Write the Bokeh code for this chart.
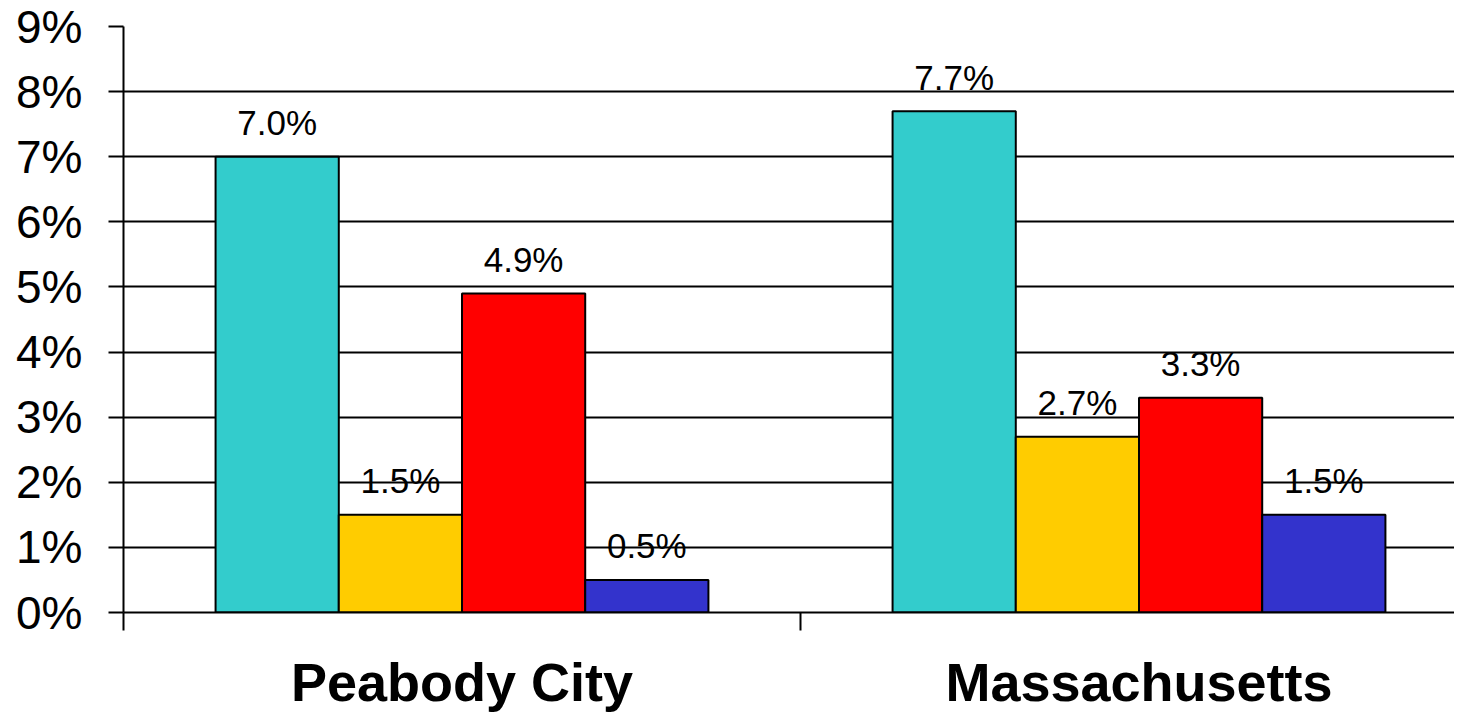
from bokeh.plotting import figure
from bokeh.models import ColumnDataSource, Range1d, FixedTicker, PrintfTickFormatter
from bokeh.transform import dodge
from bokeh.core.properties import value
from bokeh.embed import file_html
from bokeh.resources import INLINE

# ---- data ----
categories = ["Peabody City", "Massachusetts"]
series_names = ["teal", "yellow", "red", "blue"]
teal_vals = [7.0, 7.7]
yellow_vals = [1.5, 2.7]
red_vals = [4.9, 3.3]
blue_vals = [0.5, 1.5]
y_ticks = [0, 1, 2, 3, 4, 5, 6, 7, 8, 9]

colors = ["#33CCCC", "#FFCC00", "#FF0000", "#3333CC"]
series_values = [teal_vals, yellow_vals, red_vals, blue_vals]

FONT = "Liberation Sans"
bar_w = 0.182
centers = [i + 0.5 for i in range(len(categories))]

W, H = 1454, 714
LEFT, TOP, BOTTOM = 123, 26, 102
CAT_PX = 677

p = figure(width=W, height=H, output_backend="svg", toolbar_location=None,
           x_range=Range1d(0, (W - LEFT) / CAT_PX), y_range=Range1d(0, 9),
           min_border_left=LEFT, min_border_right=0, min_border_top=TOP,
           min_border_bottom=BOTTOM)
p.outline_line_color = None
p.background_fill_color = "white"
p.border_fill_color = "white"

offsets = [-1.5 * bar_w, -0.5 * bar_w, 0.5 * bar_w, 1.5 * bar_w]
for vals, col, off in zip(series_values, colors, offsets):
    src = ColumnDataSource(dict(x=centers, top=vals,
                                lab=[f"{v:.1f}%" for v in vals]))
    p.vbar(x=dodge("x", off, range=p.x_range), top="top", bottom=0, width=bar_w,
           source=src, fill_color=col, line_color="black", line_width=2)
    p.text(x=dodge("x", off, range=p.x_range), y="top", text="lab", source=src,
           text_align="center", text_baseline="alphabetic", y_offset=-34,
           text_font=value(FONT), text_font_size="35px", text_color="black")

# y axis
p.yaxis.ticker = FixedTicker(ticks=y_ticks, minor_ticks=[])
p.yaxis.formatter = PrintfTickFormatter(format="%d%%")
p.yaxis.major_label_text_font = FONT
p.yaxis.major_label_text_font_size = "46px"
p.yaxis.major_label_text_color = "black"
p.yaxis.major_label_standoff = 26
p.yaxis.major_tick_out = 15
p.yaxis.major_tick_in = 0
p.yaxis.major_tick_line_width = 2
p.yaxis.major_tick_line_color = "black"
p.yaxis.axis_line_width = 2
p.yaxis.axis_line_color = "black"
p.yaxis.minor_tick_line_color = None

# x axis
p.xaxis.ticker = FixedTicker(ticks=centers, minor_ticks=[0, 1, 2])
p.xaxis.major_label_overrides = {c: n for c, n in zip(centers, categories)}
p.xaxis.major_label_text_font = FONT
p.xaxis.major_label_text_font_style = "bold"
p.xaxis.major_label_text_font_size = "54px"
p.xaxis.major_label_text_color = "black"
p.xaxis.major_label_standoff = 21
p.xaxis.major_tick_out = 0
p.xaxis.major_tick_in = 0
p.xaxis.major_tick_line_color = None
p.xaxis.minor_tick_out = 18
p.xaxis.minor_tick_in = 0
p.xaxis.minor_tick_line_width = 2
p.xaxis.minor_tick_line_color = "black"
p.xaxis.axis_line_width = 2
p.xaxis.axis_line_color = "black"

# grid
p.xgrid.grid_line_color = None
p.ygrid.grid_line_color = "black"
p.ygrid.grid_line_width = 2
p.ygrid.grid_line_alpha = 1.0

open("out.html", "w").write(file_html(p, INLINE))
